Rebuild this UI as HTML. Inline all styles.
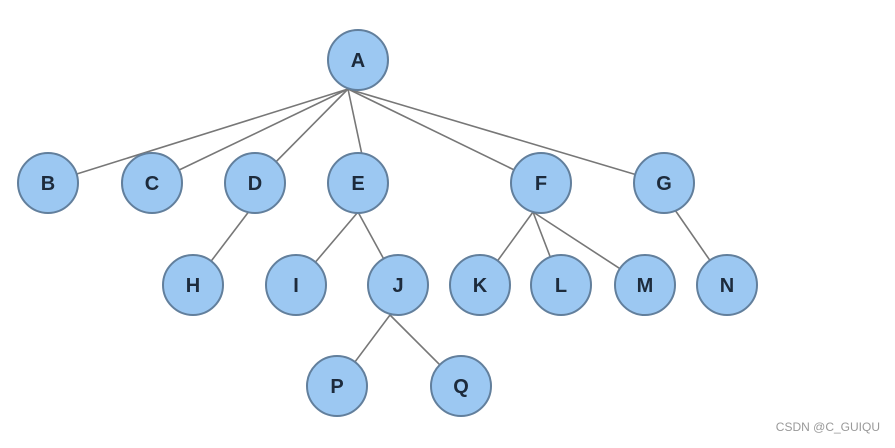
<!DOCTYPE html>
<html><head><style>
body{margin:0;background:#fff;width:895px;height:443px;overflow:hidden}
text{font-family:"Liberation Sans",sans-serif;font-weight:bold;font-size:20px;fill:#1d2b3c}
</style></head><body>
<svg width="895" height="443" xmlns="http://www.w3.org/2000/svg">
<g stroke="#777" stroke-width="1.6">
<line x1="348" y1="89" x2="48" y2="183"/>
<line x1="348" y1="89" x2="152" y2="183"/>
<line x1="348" y1="89" x2="255" y2="183"/>
<line x1="348" y1="89" x2="368" y2="183"/>
<line x1="348" y1="89" x2="541" y2="183"/>
<line x1="348" y1="89" x2="664" y2="183"/>
<line x1="250" y1="210" x2="193" y2="285"/>
<line x1="358" y1="212" x2="296" y2="285"/>
<line x1="358" y1="212" x2="398" y2="285"/>
<line x1="533" y1="212" x2="480" y2="285"/>
<line x1="533" y1="212" x2="561" y2="285"/>
<line x1="533" y1="212" x2="645" y2="285"/>
<line x1="675" y1="210" x2="727" y2="285"/>
<line x1="390" y1="315" x2="337" y2="386"/>
<line x1="390" y1="315" x2="461" y2="386"/>
</g>
<g fill="#9cc8f2" stroke="#627f9c" stroke-width="2">
<circle cx="358" cy="60" r="30"/>
<circle cx="48" cy="183" r="30"/><circle cx="152" cy="183" r="30"/><circle cx="255" cy="183" r="30"/><circle cx="358" cy="183" r="30"/><circle cx="541" cy="183" r="30"/><circle cx="664" cy="183" r="30"/>
<circle cx="193" cy="285" r="30"/><circle cx="296" cy="285" r="30"/><circle cx="398" cy="285" r="30"/><circle cx="480" cy="285" r="30"/><circle cx="561" cy="285" r="30"/><circle cx="645" cy="285" r="30"/><circle cx="727" cy="285" r="30"/>
<circle cx="337" cy="386" r="30"/><circle cx="461" cy="386" r="30"/>
</g>
<g text-anchor="middle">
<text x="358" y="67">A</text>
<text x="48" y="190">B</text><text x="152" y="190">C</text><text x="255" y="190">D</text><text x="358" y="190">E</text><text x="541" y="190">F</text><text x="664" y="190">G</text>
<text x="193" y="292">H</text><text x="296" y="292">I</text><text x="398" y="292">J</text><text x="480" y="292">K</text><text x="561" y="292">L</text><text x="645" y="292">M</text><text x="727" y="292">N</text>
<text x="337" y="393">P</text><text x="461" y="393">Q</text>
</g>
<text x="880" y="431" text-anchor="end" style="font-size:12px;font-weight:normal;fill:#999">CSDN @C_GUIQU</text>
</svg>
</body></html>
